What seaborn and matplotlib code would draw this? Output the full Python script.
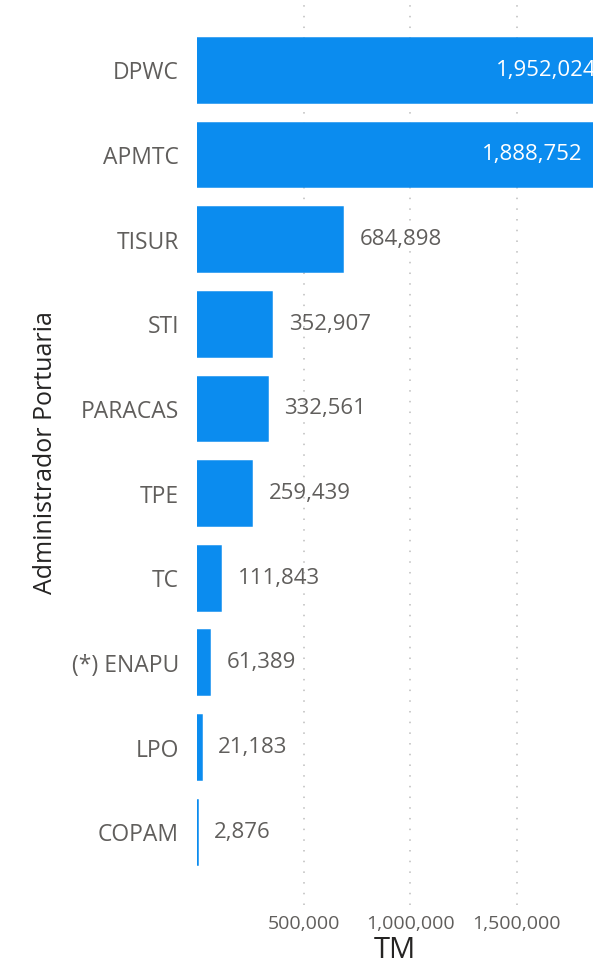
import numpy as np
import matplotlib
matplotlib.use("Agg")
import matplotlib.pyplot as plt
import pandas as pd
import seaborn as sns

operators = ["DPWC", "APMTC", "TISUR", "STI", "PARACAS", "TPE", "TC", "(*) ENAPU", "LPO", "COPAM"]
tonnes = [1952024, 1888752, 684898, 352907, 332561, 259439, 111843, 61389, 21183, 2876]
xticks = [500000, 1000000, 1500000]

blue = "#0B8CEF"
sns.set_theme(style="white")
plt.rcParams["font.family"] = ["Open Sans", "DejaVu Sans"]

df = pd.DataFrame({"Administrador Portuaria": operators, "TM": tonnes})

fig = plt.figure(figsize=(5.93, 9.68), dpi=100)
ax = fig.add_axes([197 / 593, 63 / 968, 1 - 197 / 593, 905 / 968])

sns.barplot(data=df, y="Administrador Portuaria", x="TM", orient="h",
            color=blue, saturation=1, width=0.765, edgecolor=blue,
            linewidth=1.1, ax=ax)

xmax = 1859000
ax.set_xlim(0, xmax)
ax.set_ylim(len(operators) - 1 + 0.86, -0.83)

gray = "#605E5C"
for i, v in enumerate(tonnes):
    lab = f"{v:,}"
    if v > xmax * 0.9:
        # value runs past the axis edge: label sits inside the bar, clipped
        t = ax.annotate(lab, (v, i), xytext=(-12, 0), textcoords="offset points",
                        ha="right", va="center", color="white", fontsize=16,
                        annotation_clip=False)
    else:
        t = ax.annotate(lab, (v, i), xytext=(12, 0), textcoords="offset points",
                        ha="left", va="center", color=gray, fontsize=16)
    t.set_clip_on(True)

ax.set_xticks(xticks)
ax.set_xticklabels([f"{x:,}" for x in xticks], color=gray, fontsize=14)
ax.tick_params(axis="y", labelsize=16.5, labelcolor=gray, pad=13, length=0)
ax.tick_params(axis="x", pad=7, length=0)
ax.xaxis.grid(True, linestyle=(0, (1, 6)), color="#BDBDBD", linewidth=1.1)
ax.set_axisbelow(True)
for s in ax.spines.values():
    s.set_visible(False)

ax.set_xlabel("TM", fontsize=21, color="#252423", labelpad=2)
ax.set_ylabel("Administrador Portuaria", fontsize=18, color="#252423", labelpad=10)

plt.savefig("out.png", dpi=100)
